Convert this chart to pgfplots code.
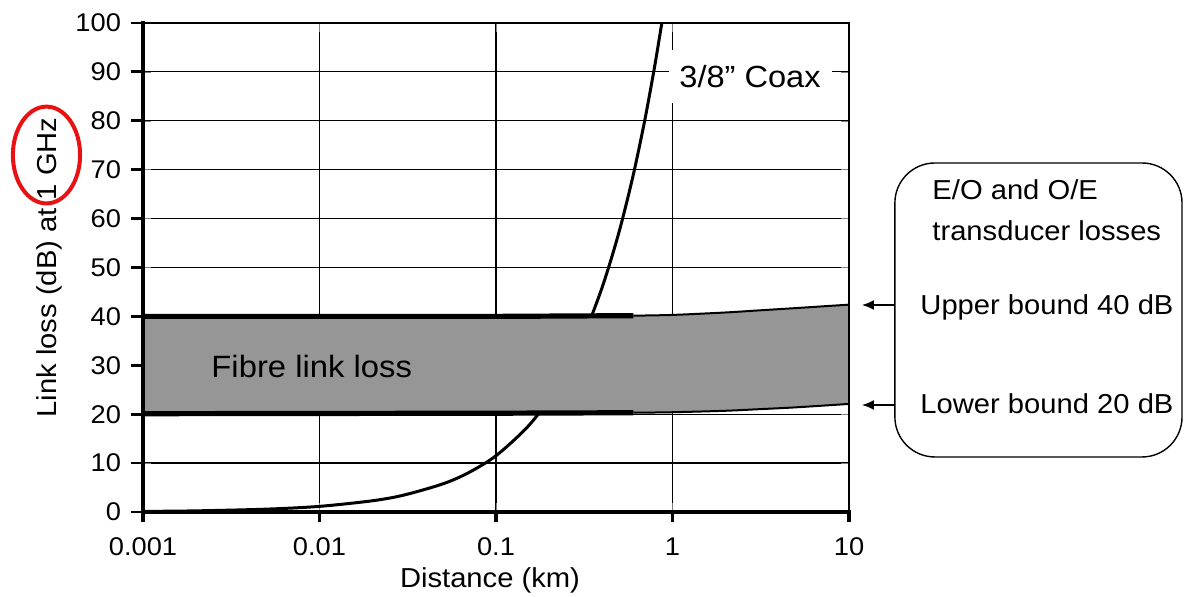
\documentclass[border=0pt]{standalone}
\usepackage{fontspec}
\setmainfont{Liberation Sans}[FakeStretch=1.065]
\usepackage{pgfplots}
\pgfplotsset{compat=1.18}
\usetikzlibrary{arrows.meta}
\definecolor{bandgray}{RGB}{150,150,150}
\definecolor{ellred}{RGB}{232,18,18}
\begin{document}
\begin{tikzpicture}
\begin{axis}[
  scale only axis, width=353pt, height=244.5pt,
  xmode=log, xmin=0.001, xmax=10, ymin=0, ymax=100,
  xtick={0.001,0.01,0.1,1,10}, xticklabels={0.001,0.01,0.1,1,10},
  ytick={0,10,...,100},
  xminorticks=false, yminorticks=false,
  axis line style={line width=0.6pt, black},
  grid=major, major grid style={line width=0.6pt, black},
  tick label style={font=\fontsize{12.8}{14}\selectfont},
  xticklabel style={yshift=-9.5pt},
  yticklabel style={xshift=-7.5pt},
  /pgf/number format/assume math mode=true,
  xlabel={Distance (km)}, ylabel={Link loss (dB) at 1 GHz},
  label style={font=\fontsize{13.7}{16}\selectfont},
  xlabel style={at={(axis description cs:0.4915,-0.139)}, anchor=center},
  ylabel style={at={(axis description cs:-0.133,0.5)}, anchor=center},
  clip=false,
]
% 3/8" coax loss
\addplot[line width=1.5pt, black, smooth] coordinates {
 (0.001,0.12) (0.002,0.23) (0.005,0.58) (0.01,1.15) (0.02,2.3) (0.03,3.45)
 (0.05,5.75) (0.07,8.05) (0.1,11.5) (0.15,17.3) (0.2,23) (0.25,28.8) (0.3,34.5)
 (0.35,40.3) (0.4,46) (0.45,51.8) (0.5,57.5) (0.55,63.3) (0.6,69) (0.65,74.8)
 (0.7,80.5) (0.75,86.3) (0.8,92) (0.87,100)};
% fibre band
\addplot[fill=bandgray, draw=none] coordinates {
 (0.001,40) (0.1,40) (0.6,40.15) (1,40.3) (2,40.8) (3,41.2) (5,41.7) (10,42.4)
 (10,22.1) (5,21.4) (3,21.0) (2,20.7) (1,20.4) (0.6,20.3) (0.1,20.2) (0.001,20.1)} -- cycle;
\addplot[line width=2.6pt, black] coordinates {(0.001,40) (0.1,40) (0.6,40.15)};
\addplot[line width=1pt, black, smooth] coordinates {(0.6,40.15) (1,40.3) (2,40.8) (3,41.2) (5,41.7) (10,42.4)};
\addplot[line width=2.6pt, black] coordinates {(0.001,20.1) (0.1,20.2) (0.6,20.3)};
\addplot[line width=1pt, black, smooth] coordinates {(0.6,20.3) (1,20.4) (2,20.7) (3,21.0) (5,21.4) (10,22.1)};
\addplot[line width=0.8pt, black] coordinates {(10,22.1) (10,42.4)};

% thick left and bottom axis lines and outward ticks
\draw[line width=2.3pt, black, line cap=rect] (axis description cs:0,1) -- (axis description cs:0,0) -- (axis description cs:1,0);
\pgfplotsinvokeforeach{0,10,20,30,40,50,60,70,80,90,100}{
  \draw[line width=1.4pt, black] (axis cs:0.001,#1) -- ([xshift=-6pt]axis cs:0.001,#1);
}
\pgfplotsinvokeforeach{0.001,0.01,0.1,1,10}{
  \draw[line width=1.6pt, black] (axis cs:#1,0) -- ([yshift=-5pt]axis cs:#1,0);
}

\node[anchor=base west, inner sep=0pt, font=\fontsize{15.4}{18}\selectfont] at (axis cs:0.00243,27.6) {Fibre link loss};
\node[fill=white, minimum width=81.5pt, minimum height=26.5pt, inner sep=0pt,
      font=\fontsize{15.3}{18}\selectfont] at (axis cs:2.75,89.06) {3/8” Coax};

\draw[ellred, line width=2pt] (axis description cs:-0.1367,0.730) ellipse [x radius=16.8pt, y radius=24.2pt];

\draw[line width=0.7pt, rounded corners=20pt] (axis description cs:1.065,0.1125) rectangle (axis description cs:1.4717,0.7137);
\draw[-{Latex[length=6pt,width=5pt]}, line width=0.8pt] (axis description cs:1.065,0.4233) -- (axis description cs:1.0184,0.4233);
\draw[-{Latex[length=6pt,width=5pt]}, line width=0.8pt] (axis description cs:1.065,0.2188) -- (axis description cs:1.0184,0.2188);

\node[anchor=base west, inner sep=0pt, font=\fontsize{13.7}{16}\selectfont] at (axis description cs:1.1176,0.640) {E/O and O/E};
\node[anchor=base west, inner sep=0pt, font=\fontsize{13.7}{16}\selectfont] at (axis description cs:1.1176,0.5548) {transducer losses};
\node[anchor=base west, inner sep=0pt, font=\fontsize{13.7}{16}\selectfont] at (axis description cs:1.1006,0.4043) {Upper bound 40 dB};
\node[anchor=base west, inner sep=0pt, font=\fontsize{13.7}{16}\selectfont] at (axis description cs:1.1006,0.2018) {Lower bound 20 dB};
\end{axis}
\pgfresetboundingbox
\path[use as bounding box] (current axis.south west) ++(-71.5pt,-42.5pt) rectangle ++(592pt,298.5pt);
\end{tikzpicture}
\end{document}
